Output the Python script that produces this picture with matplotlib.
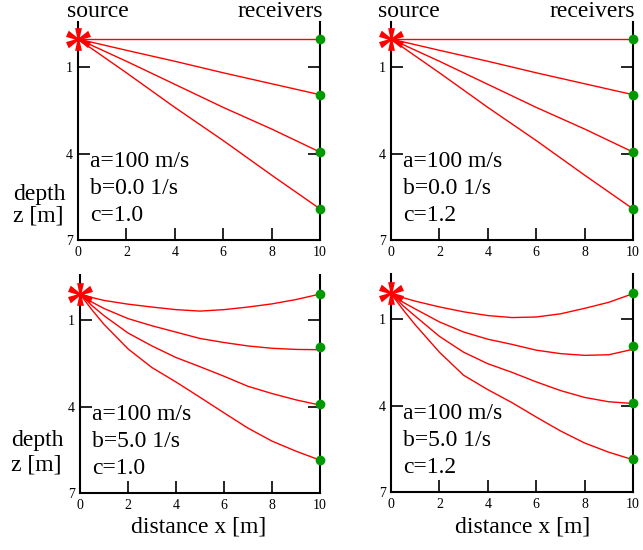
import numpy as np
import matplotlib.pyplot as plt
from matplotlib.textpath import TextPath
from matplotlib.font_manager import FontProperties
from matplotlib.path import Path

plt.rcParams['font.family'] = ['Liberation Serif', 'DejaVu Serif']

W, H = 643, 550

# ray sample positions along x [m]
x_top = [0, 2, 4, 6, 8, 10]
x_bot = [0, 0.5, 1, 2, 3, 4, 5, 6, 7, 8, 9, 10]

# depth of each ray, b = 0 (straight rays)
rays_b0 = [
    [0.03, 0.03, 0.03, 0.03, 0.03, 0.03],
    [0.03, 0.42, 0.80, 1.20, 1.58, 1.96],
    [0.03, 0.80, 1.60, 2.40, 3.15, 3.95],
    [0.03, 1.20, 2.40, 3.55, 4.75, 5.92],
]
# b = 5, c = 1.0
rays_b5_c10 = [
    [0.10, 0.22, 0.32, 0.45, 0.55, 0.64, 0.69, 0.64, 0.55, 0.44, 0.29, 0.10],
    [0.10, 0.38, 0.60, 0.95, 1.20, 1.42, 1.64, 1.78, 1.90, 1.98, 2.02, 2.03],
    [0.10, 0.50, 0.85, 1.45, 1.90, 2.30, 2.62, 2.95, 3.30, 3.55, 3.77, 3.95],
    [0.10, 0.65, 1.15, 2.00, 2.65, 3.15, 3.68, 4.22, 4.75, 5.20, 5.55, 5.86],
]
# b = 5, c = 1.2
rays_b5_c12 = [
    [0.12, 0.26, 0.38, 0.58, 0.75, 0.88, 0.95, 0.93, 0.82, 0.63, 0.42, 0.12],
    [0.12, 0.42, 0.65, 1.10, 1.45, 1.70, 1.88, 2.08, 2.20, 2.26, 2.24, 2.05],
    [0.12, 0.54, 0.90, 1.60, 2.15, 2.55, 2.85, 3.18, 3.48, 3.72, 3.87, 3.93],
    [0.12, 0.68, 1.20, 2.15, 2.95, 3.45, 3.90, 4.40, 4.88, 5.30, 5.62, 5.88],
]

source_top = 0.03
source_bot = 0.10
receivers_top = [0.03, 1.96, 3.95, 5.92]
receivers_bot = [0.09, 1.95, 3.93, 5.87]

a_labels = ["a=100 m/s", "a=100 m/s", "a=100 m/s", "a=100 m/s"]
b_labels = ["b=0.0 1/s", "b=0.0 1/s", "b=5.0 1/s", "b=5.0 1/s"]
c_labels = ["c=1.0", "c=1.2", "c=1.0", "c=1.2"]

xticks = [0, 2, 4, 6, 8, 10]
yticks = [1, 4, 7]

# asterisk marker built from the serif glyph, centred on its own box
tp = TextPath((0, 0), '*', size=10,
              prop=FontProperties(family='Liberation Serif', weight='bold'))
codes = tp.codes
ext = tp.get_extents()
verts = tp.vertices - [(ext.x0 + ext.x1) / 2, (ext.y0 + ext.y1) / 2]
verts[codes == Path.CLOSEPOLY] = 0.0
star = Path(verts, codes)


def px_rect(left, right, bottom, height):
    return [left / W, 1 - bottom / H, (right - left) / W, height / H]


fig = plt.figure(figsize=(W / 100, H / 100), dpi=100)

panel_h = 7.55 * 28.83
boxes = [
    px_rect(78, 320, 240, panel_h),
    px_rect(391, 633, 240, panel_h),
    px_rect(80, 320, 493, panel_h),
    px_rect(391, 633, 492, panel_h),
]
panels = [
    (x_top, rays_b0, source_top, receivers_top),
    (x_top, rays_b0, source_top, receivers_top),
    (x_bot, rays_b5_c10, source_bot, receivers_bot),
    (x_bot, rays_b5_c12, source_bot, receivers_bot),
]

axes = []
for i, (box, (xs, rays, src, rec)) in enumerate(zip(boxes, panels)):
    ax = fig.add_axes(box)
    axes.append(ax)
    for z in rays:
        ax.plot(xs, z, color='#ff0000', lw=1.0, zorder=3)
    ax.plot([10] * len(rec), rec, 'o', color='#009a00', ms=7, mew=0,
            clip_on=False, zorder=6)
    ax.plot([0], [src], marker=star, ms=18, color='#ff0000', mew=0,
            ls='none', clip_on=False, zorder=7)

    ax.set_xlim(0, 10)
    ax.set_ylim(7, -0.55)
    ax.set_xticks(xticks)
    ax.set_yticks(yticks)
    ax.spines['top'].set_visible(False)
    for s in ['left', 'right', 'bottom']:
        ax.spines[s].set_linewidth(1.5)
    ax.tick_params(direction='in', length=8.5, width=1.2, labelsize=10,
                   right=True, top=False)
    ax.tick_params(axis='y', pad=3.5)
    ax.tick_params(axis='x', pad=4.5)

    ax.text(0.5, 4.46, a_labels[i], fontsize=17, va='baseline')
    ax.text(0.5, 5.40, b_labels[i], fontsize=17, va='baseline')
    ax.text(0.5, 6.33, c_labels[i], fontsize=17, va='baseline')

# headers over the top row
axes[0].text(-0.45, -0.745, 'source', fontsize=17, va='baseline', clip_on=False)
axes[0].text(10.12, -0.745, 'receivers', fontsize=17, va='baseline',
             ha='right', clip_on=False)
axes[1].text(-0.54, -0.745, 'source', fontsize=17, va='baseline', clip_on=False)
axes[1].text(10.08, -0.745, 'receivers', fontsize=17, va='baseline',
             ha='right', clip_on=False)

# depth labels on the left column
for y_depth, y_z, xl in [(200, 222, 13), (446, 470, 11)]:
    fig.text(xl / W, 1 - y_depth / H, 'depth', fontsize=17, va='baseline')
    fig.text(xl / W, 1 - y_z / H, 'z [m]', fontsize=17, va='baseline')

# distance labels under the bottom row
fig.text(198.5 / W, 1 - 532 / H, 'distance x [m]', fontsize=17,
         va='baseline', ha='center')
fig.text(523 / W, 1 - 532 / H, 'distance x [m]', fontsize=17,
         va='baseline', ha='center')

fig.savefig('out.png', dpi=100)
